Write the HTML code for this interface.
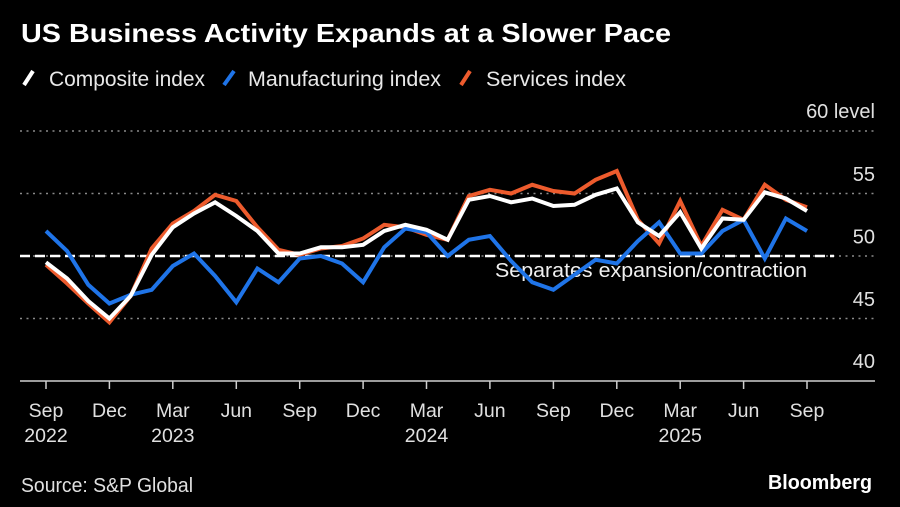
<!DOCTYPE html>
<html>
<head>
<meta charset="utf-8">
<style>
  html, body { margin: 0; padding: 0; background: #000; }
  body { width: 900px; height: 507px; overflow: hidden; }
  svg { display: block; }
  text { font-family: "Liberation Sans", "DejaVu Sans", sans-serif; }
</style>
</head>
<body>
<svg width="900" height="507" viewBox="0 0 900 507" xmlns="http://www.w3.org/2000/svg">
  <rect x="0" y="0" width="900" height="507" fill="#000"/>

  <!-- Title -->
  <text x="21" y="42" font-size="26" font-weight="bold" fill="#ffffff" textLength="650" lengthAdjust="spacingAndGlyphs">US Business Activity Expands at a Slower Pace</text>

  <!-- Legend -->
  <line x1="24" y1="85" x2="33" y2="71" stroke="#ffffff" stroke-width="4" stroke-linecap="butt"/>
  <text x="49" y="86" font-size="21" fill="#e8e8e8" textLength="156" lengthAdjust="spacingAndGlyphs">Composite index</text>
  <line x1="224" y1="85" x2="234" y2="71" stroke="#1f74e8" stroke-width="4"/>
  <text x="248" y="86" font-size="21" fill="#e8e8e8" textLength="193" lengthAdjust="spacingAndGlyphs">Manufacturing index</text>
  <line x1="461" y1="85" x2="470" y2="71" stroke="#ed5b2d" stroke-width="4"/>
  <text x="486" y="86" font-size="21" fill="#e8e8e8" textLength="140" lengthAdjust="spacingAndGlyphs">Services index</text>

  <!-- Gridlines -->
  <g stroke="#8a8a8a" stroke-width="1.5" stroke-dasharray="2 4.5">
    <line x1="20" y1="131" x2="875" y2="131"/>
    <line x1="20" y1="193.5" x2="875" y2="193.5"/>
    <line x1="20" y1="256" x2="875" y2="256"/>
    <line x1="20" y1="318.5" x2="875" y2="318.5"/>
  </g>

  <!-- Y labels -->
  <g font-size="20" fill="#e0e0e0" text-anchor="end">
    <text x="875" y="118">60 level</text>
    <text x="875" y="181">55</text>
    <text x="875" y="243.5">50</text>
    <text x="875" y="306">45</text>
    <text x="875" y="368">40</text>
  </g>

  <!-- Dashed 50 line -->
  <line x1="20" y1="256" x2="834" y2="256" stroke="#ffffff" stroke-width="2.5" stroke-dasharray="10 5"/>
  <text x="495" y="277" font-size="20" fill="#f0f0f0" textLength="312" lengthAdjust="spacingAndGlyphs">Separates expansion/contraction</text>

  <!-- X axis -->
  <line x1="20" y1="381" x2="875" y2="381" stroke="#cfcfcf" stroke-width="1.5"/>
  <g stroke="#cfcfcf" stroke-width="1.5">
    <line x1="46" y1="381" x2="46" y2="389"/>
    <line x1="109.4" y1="381" x2="109.4" y2="389"/>
    <line x1="172.8" y1="381" x2="172.8" y2="389"/>
    <line x1="236.3" y1="381" x2="236.3" y2="389"/>
    <line x1="299.7" y1="381" x2="299.7" y2="389"/>
    <line x1="363.1" y1="381" x2="363.1" y2="389"/>
    <line x1="426.5" y1="381" x2="426.5" y2="389"/>
    <line x1="489.9" y1="381" x2="489.9" y2="389"/>
    <line x1="553.4" y1="381" x2="553.4" y2="389"/>
    <line x1="616.8" y1="381" x2="616.8" y2="389"/>
    <line x1="680.2" y1="381" x2="680.2" y2="389"/>
    <line x1="743.6" y1="381" x2="743.6" y2="389"/>
    <line x1="807" y1="381" x2="807" y2="389"/>
  </g>
  <g font-size="19.5" fill="#e0e0e0" text-anchor="middle">
    <text x="46" y="417">Sep</text>
    <text x="46" y="442">2022</text>
    <text x="109.4" y="417">Dec</text>
    <text x="172.8" y="417">Mar</text>
    <text x="172.8" y="442">2023</text>
    <text x="236.3" y="417">Jun</text>
    <text x="299.7" y="417">Sep</text>
    <text x="363.1" y="417">Dec</text>
    <text x="426.5" y="417">Mar</text>
    <text x="426.5" y="442">2024</text>
    <text x="489.9" y="417">Jun</text>
    <text x="553.4" y="417">Sep</text>
    <text x="616.8" y="417">Dec</text>
    <text x="680.2" y="417">Mar</text>
    <text x="680.2" y="442">2025</text>
    <text x="743.6" y="417">Jun</text>
    <text x="807" y="417">Sep</text>
  </g>

  <!-- Series -->
  <g fill="none" stroke-width="4" stroke-linejoin="miter" stroke-miterlimit="3">
    <!-- Services -->
    <polyline stroke="#ed5b2d" points="46,264.8 67.1,283.5 88.3,303.5 109.4,322.3 130.6,296 151.7,248.5 172.8,223.5 194,211 215.1,194.8 236.3,201 257.4,227.3 278.5,249.8 299.7,254.8 320.8,248.5 342,246 363.1,238.5 384.2,224.8 405.4,227.3 426.5,234.8 447.7,239.8 468.8,196 489.9,189.8 511.1,193.5 532.2,184.8 553.4,191 574.5,193.5 595.6,179.8 616.8,171 637.9,219.8 659.1,243.5 680.2,201 701.3,246 722.5,209.8 743.6,219.8 764.8,184.8 785.9,199.8 807,207.3"/>
    <!-- Manufacturing -->
    <polyline stroke="#1f74e8" points="46,231 67.1,251 88.3,284.8 109.4,303.5 130.6,294.8 151.7,289.8 172.8,266 194,253.5 215.1,276 236.3,302.3 257.4,268.5 278.5,282.3 299.7,258.5 320.8,256 342,263.5 363.1,282.3 384.2,247.3 405.4,228.5 426.5,232.3 447.7,256 468.8,239.8 489.9,236 511.1,261 532.2,282.3 553.4,289.8 574.5,274.8 595.6,259.8 616.8,263.5 637.9,241 659.1,222.3 680.2,253.5 701.3,253.5 722.5,231 743.6,219.8 764.8,258.5 785.9,218.5 807,231"/>
    <!-- Composite -->
    <polyline stroke="#ffffff" points="46,262.3 67.1,278.5 88.3,301 109.4,318.5 130.6,296 151.7,254.8 172.8,227.3 194,213.5 215.1,202.3 236.3,216 257.4,231 278.5,253.5 299.7,253.5 320.8,247.3 342,247.3 363.1,244.8 384.2,231 405.4,224.8 426.5,229.8 447.7,239.8 468.8,199.8 489.9,196 511.1,202.3 532.2,198.5 553.4,206 574.5,204.8 595.6,194.8 616.8,188.5 637.9,222.3 659.1,236 680.2,212.3 701.3,248.5 722.5,218.5 743.6,219.8 764.8,192.3 785.9,198.5 807,211"/>
  </g>

  <!-- Footer -->
  <text x="21" y="492" font-size="20" fill="#e0e0e0" textLength="172" lengthAdjust="spacingAndGlyphs">Source: S&amp;P Global</text>
  <text x="768" y="489" font-size="20" font-weight="bold" fill="#ffffff" textLength="104" lengthAdjust="spacingAndGlyphs">Bloomberg</text>
</svg>
</body>
</html>
